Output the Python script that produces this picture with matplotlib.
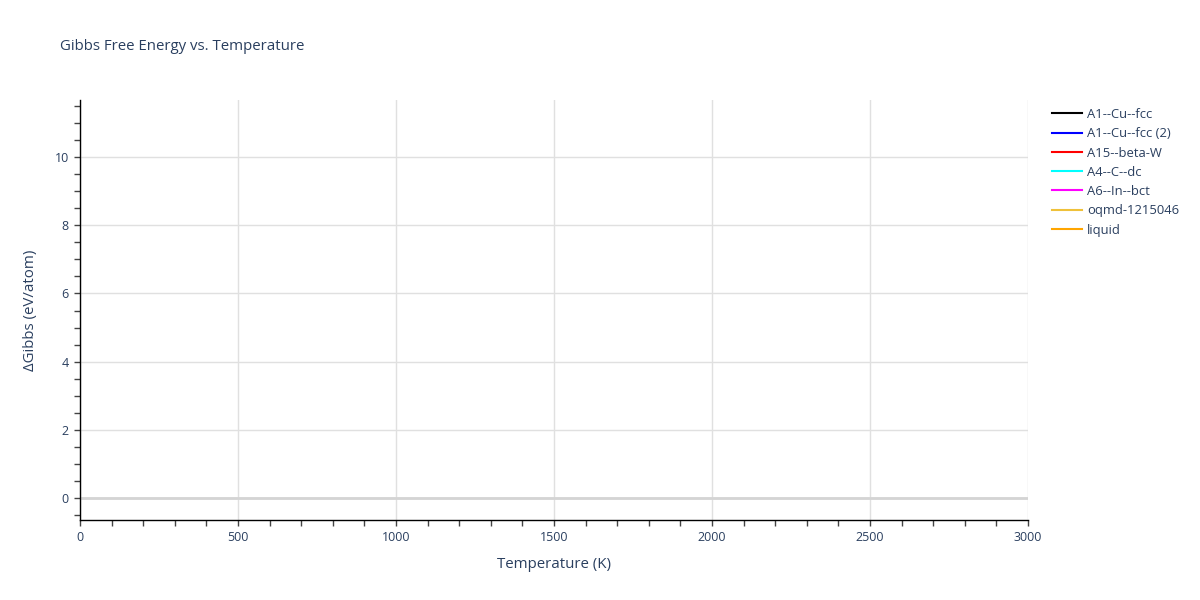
import matplotlib
matplotlib.use("Agg")
import matplotlib.pyplot as plt
from matplotlib.ticker import MultipleLocator

plt.rcParams['font.family'] = ['Open Sans', 'DejaVu Sans']

# no curve is drawn in the reference: every phase has an empty series
temperature = []
phases = ["A1--Cu--fcc", "A1--Cu--fcc (2)", "A15--beta-W", "A4--C--dc",
          "A6--In--bct", "oqmd-1215046", "liquid"]
gibbs = [[], [], [], [], [], [], []]
colors = ["black", "blue", "red", "cyan", "magenta", "#efc13a", "orange"]

x_range = (0, 3000)
y_range = (-0.64, 11.67)

txt = "#2a3f5f"
fig = plt.figure(figsize=(12, 6), dpi=100)
ax = fig.add_axes([80 / 1200, 80 / 600, 948 / 1200, 420 / 600])

for name, g, c in zip(phases, gibbs, colors):
    ax.plot(temperature, g, color=c, lw=1.5, label=name)

ax.set_xlim(*x_range)
ax.set_ylim(*y_range)

ax.xaxis.set_major_locator(MultipleLocator(500))
ax.xaxis.set_minor_locator(MultipleLocator(100))
ax.yaxis.set_major_locator(MultipleLocator(2))
ax.yaxis.set_minor_locator(MultipleLocator(0.5))

ax.grid(True, which='major', color='#e0e0e0', lw=1)
ax.axhline(0, color='#d4d4d4', lw=2, zorder=1)
ax.set_axisbelow(True)

for s in ['top', 'right']:
    ax.spines[s].set_visible(False)
for s in ['left', 'bottom']:
    ax.spines[s].set_color('black')
    ax.spines[s].set_linewidth(1)

ax.tick_params(which='both', direction='out', length=4, width=1,
               color='#444444', labelcolor=txt, labelsize=9, pad=4)

ax.set_xlabel("Temperature (K)", fontsize=10.8, color=txt, labelpad=9)
ax.set_ylabel("ΔGibbs (eV/atom)", fontsize=10.8, color=txt, labelpad=12)

fig.text(60 / 1200, 1 - 47 / 600, "Gibbs Free Energy vs. Temperature",
         fontsize=10.8, color=txt, va='center', ha='left')

ax.legend(loc='upper left', bbox_to_anchor=(1052 / 1200, 1 - 108 / 600),
          bbox_transform=fig.transFigure, frameon=False, fontsize=9.4,
          handlelength=2.3, handletextpad=0.4, labelspacing=0.48,
          borderpad=0, borderaxespad=0, labelcolor=txt)

fig.savefig("out.png", dpi=100)
